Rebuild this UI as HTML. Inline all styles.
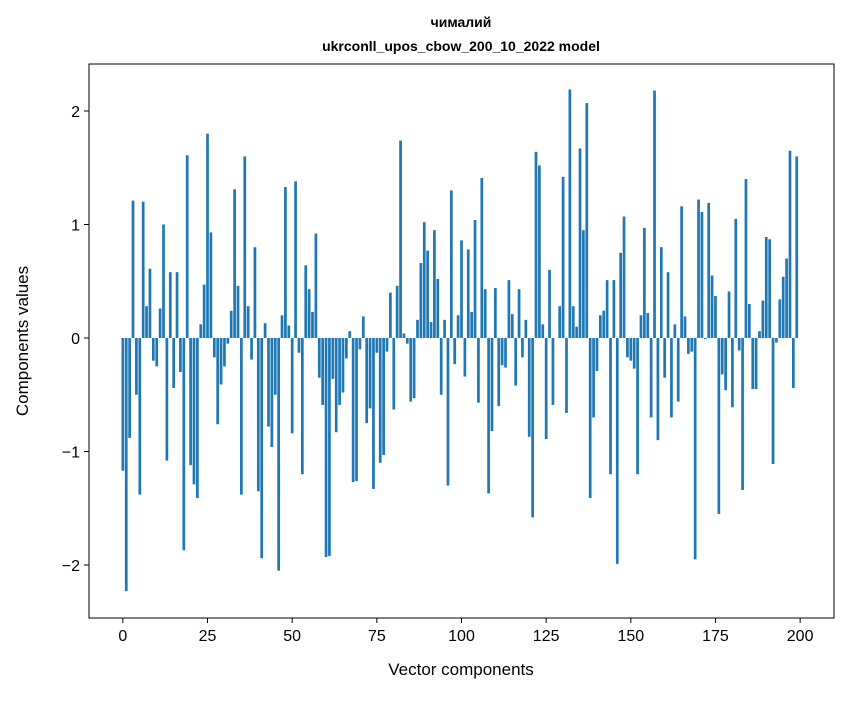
<!DOCTYPE html>
<html><head><meta charset="utf-8"><style>
body{margin:0;background:#fff;font-family:"Liberation Sans","DejaVu Sans",sans-serif}
svg text{font-family:"Liberation Sans","DejaVu Sans",sans-serif}
</style></head><body>
<svg id="chart" width="847" height="696" xmlns="http://www.w3.org/2000/svg">
<rect width="847" height="696" fill="#fff"/>
<text x="461" y="27" text-anchor="middle" font-size="14" font-weight="bold">чималий</text>
<text x="461" y="51" text-anchor="middle" font-size="14" font-weight="bold">ukrconll_upos_cbow_200_10_2022 model</text>
<g id="bars"></g>
<g id="axes"></g>
<rect x="89" y="64" width="745" height="554" fill="none" stroke="#000" stroke-width="1"/>
<text x="461" y="675" text-anchor="middle" font-size="17">Vector components</text>
<text transform="translate(28,341) rotate(-90)" text-anchor="middle" font-size="17">Components values</text>
</svg>
<script>
const values = [-1.17,-2.23,-0.88,1.21,-0.5,-1.38,1.2,0.28,0.61,-0.2,-0.25,0.26,1.0,-1.08,0.58,-0.44,0.58,-0.3,-1.87,1.61,-1.12,-1.29,-1.41,0.12,0.47,1.8,0.93,-0.17,-0.76,-0.41,-0.25,-0.05,0.24,1.31,0.46,-1.38,1.6,0.28,-0.19,0.8,-1.35,-1.94,0.13,-0.78,-0.96,-0.5,-2.05,0.2,1.33,0.11,-0.84,1.38,-0.13,-1.2,0.64,0.43,0.23,0.92,-0.35,-0.59,-1.93,-1.92,-0.36,-0.83,-0.59,-0.48,-0.18,0.06,-1.27,-1.26,-0.1,0.19,-0.75,-0.62,-1.33,-0.13,-1.1,-1.03,-0.12,0.4,-0.63,0.46,1.74,0.04,-0.05,-0.56,-0.53,0.16,0.66,1.02,0.77,0.14,0.95,0.52,-0.5,0.16,-1.3,1.3,-0.23,0.2,0.86,-0.34,0.78,0.23,1.04,-0.57,1.41,0.43,-1.37,-0.82,0.44,-0.6,-0.24,-0.26,0.51,0.21,-0.42,0.43,-0.17,0.16,-0.87,-1.58,1.64,1.52,0.12,-0.89,0.6,-0.59,0.0,0.28,1.42,-0.66,2.19,0.28,0.1,1.67,0.95,2.07,-1.41,-0.7,-0.29,0.2,0.24,0.51,-1.2,0.51,-1.99,0.75,1.07,-0.17,-0.2,-0.27,-1.2,0.2,0.97,0.22,-0.7,2.18,-0.9,0.8,-0.35,0.58,-0.7,0.12,-0.56,1.16,0.19,-0.14,-0.12,-1.95,1.22,1.11,-0.01,1.19,0.55,0.37,-1.55,-0.32,-0.46,0.41,-0.61,1.05,-0.11,-1.34,1.4,0.3,-0.45,-0.45,0.06,0.33,0.89,0.87,-1.11,-0.04,0.34,0.54,0.7,1.65,-0.44,1.6];
const xTicks = [0,25,50,75,100,125,150,175,200];
const yTicks = [-2,-1,0,1,2];
const yTickLabels = ["\u22122","\u22121","0","1","2"];
const NS="http://www.w3.org/2000/svg";
const X0=89,X1=834,Y0=64,Y1=618, XMIN=-10,XMAX=210, YMIN=-2.467,YMAX=2.414;
function sx(v){return X0+(v-XMIN)/(XMAX-XMIN)*(X1-X0);}
function sy(v){return Y1-(v-YMIN)/(YMAX-YMIN)*(Y1-Y0);}
const bars=document.getElementById('bars');
values.forEach((v,i)=>{
  const r=document.createElementNS(NS,'rect');
  
  
  const x=sx(i-0.4), w=sx(i+0.4)-x;
  const y=Math.min(sy(v),sy(0)), h=Math.abs(sy(v)-sy(0));
  r.setAttribute('x',x);r.setAttribute('y',y);r.setAttribute('width',w);r.setAttribute('height',h);
  r.setAttribute('fill','#1f77b4');
  bars.appendChild(r);
});
const axes=document.getElementById('axes');
xTicks.forEach(t=>{
  const l=document.createElementNS(NS,'line');
  
  
  l.setAttribute('x1',sx(t));l.setAttribute('x2',sx(t));l.setAttribute('y1',Y1);l.setAttribute('y2',Y1+5);l.setAttribute('stroke','#000');
  axes.appendChild(l);
  const tx=document.createElementNS(NS,'text');
  
  
  tx.setAttribute('x',sx(t));tx.setAttribute('y',Y1+23);tx.setAttribute('text-anchor','middle');tx.setAttribute('font-size','16');
  tx.textContent=t;axes.appendChild(tx);
});
yTicks.forEach((t,i)=>{
  const l=document.createElementNS(NS,'line');
  
  
  l.setAttribute('x1',X0-5);l.setAttribute('x2',X0);l.setAttribute('y1',sy(t));l.setAttribute('y2',sy(t));l.setAttribute('stroke','#000');
  axes.appendChild(l);
  const tx=document.createElementNS(NS,'text');
  
  
  tx.setAttribute('x',X0-9);tx.setAttribute('y',sy(t)+6);tx.setAttribute('text-anchor','end');tx.setAttribute('font-size','16');
  tx.textContent=yTickLabels[i];axes.appendChild(tx);
});
</script>
</body></html>
